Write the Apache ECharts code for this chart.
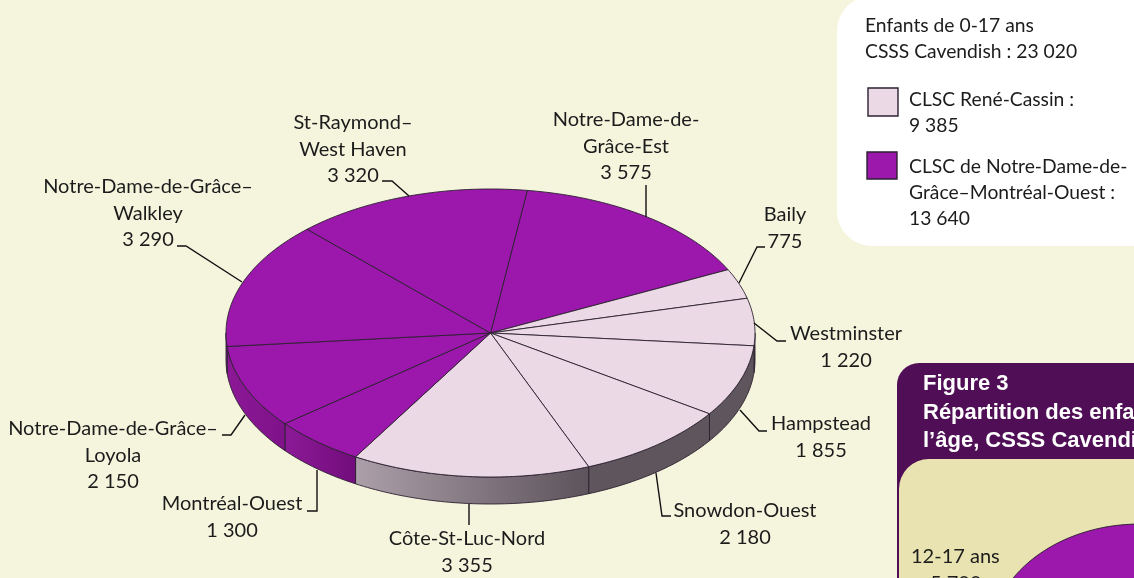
<!DOCTYPE html>
<html lang="fr">
<head>
	<meta charset="UTF-8">
	<title>Enfants de 0-17 ans, CSSS Cavendish</title>
	<script src="https://cdn.jsdelivr.net/npm/echarts@6/dist/echarts.min.js"></script>
	<style>
		html, body { margin: 0; padding: 0; background: #f5f5de; overflow: hidden; }
		#main { width: 1134px; height: 578px; }
	</style>
</head>
<body>
	<div id="main"></div>
	<script type="text/javascript">
		// Donnees, dans le sens horaire
		var sectorNames = [
			['Notre-Dame-de-', 'Grâce-Est'],
			['Baily'],
			['Westminster'],
			['Hampstead'],
			['Snowdon-Ouest'],
			['Côte-St-Luc-Nord'],
			['Montréal-Ouest'],
			['Notre-Dame-de-Grâce–', 'Loyola'],
			['Notre-Dame-de-Grâce–', 'Walkley'],
			['St-Raymond–', 'West Haven']
		];
		var sectorLabels = ['3 575', '775', '1 220', '1 855', '2 180', '3 355', '1 300', '2 150', '3 290', '3 320'];
		var sectorValues = [3575, 775, 1220, 1855, 2180, 3355, 1300, 2150, 3290, 3320];
		// 0 = CLSC René-Cassin, 1 = CLSC de NDG-Montréal-Ouest
		var sectorClsc = [1, 0, 0, 0, 0, 0, 1, 1, 1, 1];

		// Geometrie du disque
		var cx = 490.5, cy = 333, rx = 264.5, ry = 144, depth = 27, startDeg = 8;
		var topColors = ['#ecd9e6', '#9c17ab'];
		var edgeColor = '#2b2030';
		var font = '20px Lato, sans-serif';
		var legendFont = '19.3px Lato, sans-serif';
		var textColor = '#1c1c1c';

		// Mise en page des etiquettes : centre x, y de la premiere ligne, puis trait de rappel
		var labelX = [626, 785, 846, 821, 745, 467, 232, 113, 148, 353];
		var labelY = [120, 215, 334, 424, 511, 539, 504, 429, 187, 123];
		var leaders = [
			[[646, 217], [646, 185]],
			[[739, 283], [757, 247], [765, 247]],
			[[754, 323], [777, 341], [786, 341]],
			[[740, 410], [759, 431], [767, 431]],
			[[656, 473], [662, 516], [671, 516]],
			[[469, 504], [469, 525]],
			[[317, 470], [317, 511], [307, 511]],
			[[245, 415], [231, 435], [222, 435]],
			[[242, 282], [186, 246], [177, 246]],
			[[409, 196], [392, 181], [382, 181]]
		];
		var lineHeight = 26.5;

		function grad(a, b) {
			return new echarts.graphic.LinearGradient(0, 0, 1, 0, [
				{ offset: 0, color: a }, { offset: 1, color: b }
			]);
		}
		// Couleur de la tranche (cote visible) pour chaque secteur
		var sideFills = [
			null, null, '#5f565d', '#5f565d', '#5f565d',
			grad('#ac9fa9', '#5d535b'),
			grad('#8c1a97', '#720c7c'),
			grad('#8d1897', '#7e1289'),
			'#8d1897', null
		];

		var total = 0;
		for (var i = 0; i < sectorValues.length; i++) total += sectorValues[i];

		// angle de debut de chaque secteur, en degres depuis le haut
		var startAngles = [];
		var acc = startDeg;
		for (var j = 0; j < sectorValues.length; j++) {
			startAngles.push(acc);
			acc += sectorValues[j] / total * 360;
		}

		function rimPoint(deg, dy) {
			var a = deg * Math.PI / 180;
			return [cx + rx * Math.sin(a), cy - ry * Math.cos(a) + (dy || 0)];
		}

		function arcPoints(from, to, dy) {
			var pts = [];
			var n = Math.max(2, Math.ceil(Math.abs(to - from)));
			for (var k = 0; k <= n; k++) {
				pts.push(rimPoint(from + (to - from) * k / n, dy));
			}
			return pts;
		}

		function renderSide(params, api) {
			var i = params.dataIndex;
			var from = Math.max(startAngles[i], 90);
			var to = Math.min(startAngles[i] + api.value(0) / total * 360, 270);
			if (to <= from) return null;
			return {
				type: 'polygon',
				shape: { points: arcPoints(from, to, 0).concat(arcPoints(to, from, depth)) },
				style: { fill: sideFills[i], stroke: edgeColor, lineWidth: 0.9, lineJoin: 'round' }
			};
		}

		function renderTop(params, api) {
			var i = params.dataIndex;
			var from = startAngles[i];
			var to = from + api.value(0) / total * 360;
			return {
				type: 'polygon',
				shape: { points: [[cx, cy]].concat(arcPoints(from, to, 0)) },
				style: { fill: topColors[sectorClsc[i]], stroke: edgeColor, lineWidth: 0.9, lineJoin: 'round' }
			};
		}

		function renderLabel(params) {
			var i = params.dataIndex;
			var lines = sectorNames[i].concat([sectorLabels[i]]);
			var children = [{
				type: 'polyline',
				shape: { points: leaders[i] },
				style: { fill: null, stroke: '#111', lineWidth: 1.4 }
			}];
			for (var k = 0; k < lines.length; k++) {
				children.push({
					type: 'text',
					style: {
						text: lines[k], x: labelX[i], y: labelY[i] + k * lineHeight,
						font: font, fill: textColor, align: 'center', verticalAlign: 'middle'
					}
				});
			}
			return { type: 'group', children: children };
		}

		function txt(text, x, y, f, color) {
			return {
				type: 'text',
				style: { text: text, x: x, y: y, font: f || font, fill: color || textColor, verticalAlign: 'middle' }
			};
		}

		var titleFont = 'bold 22px "Liberation Sans", Arial, sans-serif';

		var myChart = echarts.init(document.getElementById('main'), null, { renderer: 'canvas' });
		var option = {
			backgroundColor: '#f5f5de',
			animation: false,
			graphic: [
				// encadre legende
				{ type: 'rect', shape: { x: 837, y: -4, width: 340, height: 250, r: 35 }, style: { fill: '#fff' } },
				txt('Enfants de 0-17 ans', 865, 26, legendFont),
				txt('CSSS Cavendish : 23 020', 865, 52, legendFont),
				{ type: 'rect', shape: { x: 868, y: 88, width: 30, height: 28 }, style: { fill: topColors[0], stroke: edgeColor, lineWidth: 1.4 } },
				txt('CLSC René-Cassin :', 909, 100, legendFont),
				txt('9 385', 909, 126, legendFont),
				{ type: 'rect', shape: { x: 867, y: 152, width: 30, height: 27 }, style: { fill: topColors[1], stroke: edgeColor, lineWidth: 1.4 } },
				txt('CLSC de Notre-Dame-de-', 909, 167, legendFont),
				txt('Grâce–Montréal-Ouest :', 909, 193, legendFont),
				txt('13 640', 909, 219, legendFont),
				// figure suivante, coupee par le bord
				{ type: 'rect', shape: { x: 897, y: 363, width: 280, height: 260, r: [22, 0, 0, 0] }, style: { fill: '#4f0e56' } },
				{ type: 'rect', shape: { x: 899, y: 459, width: 280, height: 160, r: [30, 0, 0, 0] }, style: { fill: '#e8e3b0' } },
				txt('Figure 3', 923, 384, titleFont, '#fff'),
				txt('Répartition des enfants selon', 923, 413, titleFont, '#fff'),
				txt('l’âge, CSSS Cavendish', 923, 441, titleFont, '#fff'),
				{ type: 'ellipse', shape: { cx: 1140, cy: 640, rx: 150, ry: 116 }, style: { fill: '#9c17ab', stroke: edgeColor, lineWidth: 0.9 } },
				txt('12-17 ans', 911, 557),
				txt('5 700', 930, 584)
			],
			series: [
				{ type: 'custom', coordinateSystem: 'none', silent: true, renderItem: renderSide, data: sectorValues },
				{ type: 'custom', coordinateSystem: 'none', silent: true, renderItem: renderTop, data: sectorValues },
				{ type: 'custom', coordinateSystem: 'none', silent: true, renderItem: renderLabel, data: sectorValues }
			]
		};
		myChart.setOption(option);
	</script>
</body>
</html>
